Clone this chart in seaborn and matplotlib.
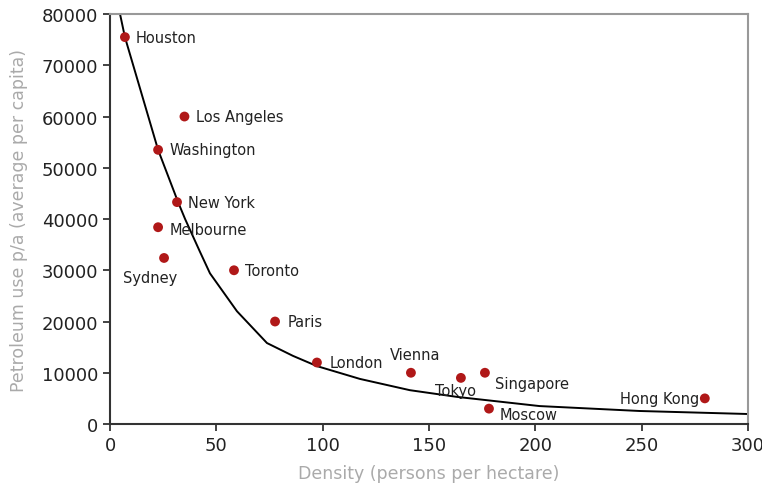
import matplotlib
matplotlib.use("Agg")
import matplotlib.pyplot as plt
import seaborn as sns
import pandas as pd

# City density vs. petroleum use
cities = ["Houston", "Los Angeles", "Washington", "New York", "Melbourne", "Sydney",
          "Toronto", "Paris", "London", "Vienna", "Tokyo", "Singapore", "Moscow", "Hong Kong"]
density = [7, 35, 22.6, 31.5, 22.6, 25.4, 58.3, 77.6, 97.3, 141.5, 165, 176.3, 178.2, 279.7]
petrol = [75500, 60000, 53500, 43300, 38400, 32400, 30000, 20000, 12000, 10000, 9000, 10000, 3000, 5000]

# Trend curve vertices
trend_x = [4.7, 7, 22.6, 32, 35.3, 42.3, 47, 59.7, 73.8, 86, 97.3, 117.5, 141, 163, 202, 249, 300]
trend_y = [80000, 75500, 53500, 43300, 40000, 33600, 29400, 22000, 15800, 13300, 11300, 8800,
           6600, 5300, 3500, 2540, 1950]

x_ticks = [0, 50, 100, 150, 200, 250, 300]
y_ticks = [0, 10000, 20000, 30000, 40000, 50000, 60000, 70000, 80000]

# Label offsets in points (dx, dy) and horizontal alignment per city
label_pos = {
    "Houston": (8, 0, "left"), "Los Angeles": (8, 0, "left"), "Washington": (8, 0, "left"),
    "New York": (8, 0, "left"), "Melbourne": (8, -2, "left"), "Sydney": (-10, -14, "center"),
    "Toronto": (8, 0, "left"), "Paris": (9, 0, "left"), "London": (9, 0, "left"),
    "Vienna": (3, 13, "center"), "Tokyo": (-4, -9, "center"), "Singapore": (7, -8, "left"),
    "Moscow": (8, -4, "left"), "Hong Kong": (-4, 0, "right"),
}

sns.set_style("white")
plt.rcParams["font.family"] = ["DejaVu Sans"]

fig = plt.figure(figsize=(7.62, 4.85), dpi=100)
ax = fig.add_axes([0.1444, 0.1237, 0.8372, 0.8453])

pts = pd.DataFrame({"density": density, "petrol": petrol, "city": cities})
trend = pd.DataFrame({"x": trend_x, "y": trend_y})

sns.lineplot(data=trend, x="x", y="y", sort=False, estimator=None, color="black",
             linewidth=1.4, ax=ax, zorder=2)
sns.scatterplot(data=pts, x="density", y="petrol", color="#b01818", s=50,
                edgecolor="none", ax=ax, zorder=3)

for name, dx_, dy_ in zip(cities, density, petrol):
    ox, oy, ha = label_pos[name]
    ax.annotate(name, (dx_, dy_), xytext=(ox, oy), textcoords="offset points",
                ha=ha, va="center", fontsize=10.5, color="#222222")

ax.set_xlim(0, 300)
ax.set_ylim(0, 80000)
ax.set_xticks(x_ticks)
ax.set_yticks(y_ticks)
ax.tick_params(axis="both", labelsize=13, colors="#222222", length=5, width=1.2,
               direction="out", bottom=True, left=True)
ax.set_xlabel("Density (persons per hectare)", fontsize=12.5, color="#aaaaaa", labelpad=7)
ax.set_ylabel("Petroleum use p/a (average per capita)", fontsize=12.5, color="#aaaaaa", labelpad=10)

for side in ["left", "bottom"]:
    ax.spines[side].set_color("#333333")
    ax.spines[side].set_linewidth(1.5)
for side in ["top", "right"]:
    ax.spines[side].set_color("#999999")
    ax.spines[side].set_linewidth(1.5)

fig.savefig("out.png", dpi=100)
